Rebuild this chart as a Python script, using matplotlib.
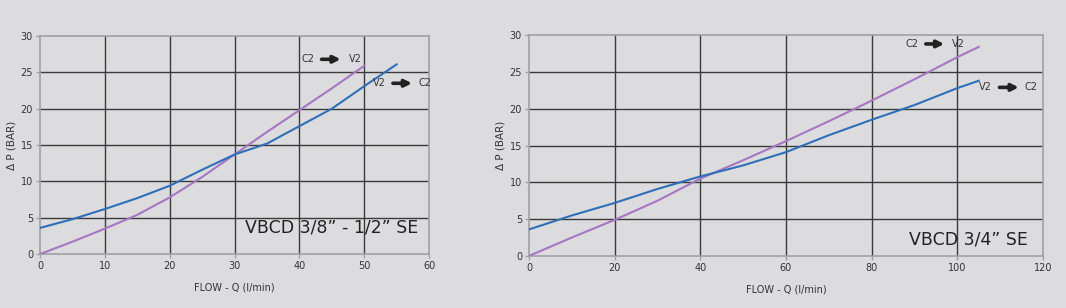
import matplotlib.pyplot as plt

# left chart: VBCD 3/8" - 1/2" SE
flow_a_blue = [0, 5, 10, 15, 20, 25, 30, 35, 40, 45, 50, 55]
dp_a_blue = [3.6, 4.8, 6.2, 7.7, 9.4, 11.6, 13.7, 15.2, 17.6, 20.0, 23.1, 26.1]
flow_a_purple = [0, 5, 10, 15, 20, 25, 30, 35, 40, 45, 50]
dp_a_purple = [0.0, 1.7, 3.5, 5.4, 7.8, 10.6, 13.7, 16.8, 19.8, 22.8, 25.9]

# right chart: VBCD 3/4" SE
flow_b_blue = [0, 10, 20, 30, 40, 50, 60, 70, 80, 90, 100, 105]
dp_b_blue = [3.6, 5.5, 7.2, 9.1, 10.8, 12.3, 14.1, 16.4, 18.5, 20.5, 22.8, 23.8]
flow_b_purple = [0, 10, 20, 30, 40, 50, 60, 70, 80, 90, 100, 105]
dp_b_purple = [0.0, 2.5, 4.9, 7.5, 10.5, 13.0, 15.6, 18.3, 21.1, 24.0, 27.0, 28.4]

BG = "#dcdcde"
BLUE = "#2f6fba"
PURPLE = "#a676c4"
TXT = "#333333"


def style_axes(ax, xmax, xstep):
    ax.set_facecolor(BG)
    ax.set_xlim(0, xmax)
    ax.set_ylim(0, 30)
    ax.set_xticks(range(0, xmax + 1, xstep))
    ax.set_yticks(range(0, 31, 5))
    for v in range(xstep, xmax, xstep):
        ax.axvline(v, color="#3a3a3a", lw=1.0, zorder=1)
    for v in range(5, 30, 5):
        ax.axhline(v, color="#3a3a3a", lw=1.0, zorder=1)
    for s in ax.spines.values():
        s.set_color("#a0a0a0")
        s.set_linewidth(1.2)
    ax.tick_params(colors="#a0a0a0", labelcolor=TXT, labelsize=7, length=3, width=1, pad=2)
    ax.set_xlabel("FLOW - Q (l/min)", fontsize=7, color=TXT, labelpad=8)
    ax.set_ylabel("Δ P (BAR)", fontsize=7.5, color=TXT, labelpad=3)


def flow_label(ax, x1, xa0, xa1, x2, y, t1, t2):
    ax.text(x1, y, t1, ha="center", va="center", fontsize=7, color=TXT, zorder=5)
    ax.annotate("", xy=(xa1, y), xytext=(xa0, y),
                arrowprops=dict(arrowstyle="-|>", color="#222222", lw=2.6,
                                mutation_scale=10), zorder=5)
    ax.text(x2, y, t2, ha="center", va="center", fontsize=7, color=TXT, zorder=5)


fig = plt.figure(figsize=(10.66, 3.08), dpi=100, facecolor=BG)

ax1 = fig.add_axes([0.0375, 0.175, 0.365, 0.708])
style_axes(ax1, 60, 10)
ax1.plot(flow_a_purple, dp_a_purple, color=PURPLE, lw=1.5, zorder=3)
ax1.plot(flow_a_blue, dp_a_blue, color=BLUE, lw=1.5, zorder=4)
flow_label(ax1, 41.3, 43.0, 46.8, 48.6, 26.8, "C2", "V2")
flow_label(ax1, 52.4, 54.0, 57.8, 59.3, 23.5, "V2", "C2")
ax1.text(58.3, 3.6, "VBCD 3/8” - 1/2” SE", ha="right", va="center",
         fontsize=12.5, color="#222222", zorder=5)

ax2 = fig.add_axes([0.4962, 0.169, 0.4822, 0.717])
style_axes(ax2, 120, 20)
ax2.plot(flow_b_purple, dp_b_purple, color=PURPLE, lw=1.5, zorder=3)
ax2.plot(flow_b_blue, dp_b_blue, color=BLUE, lw=1.5, zorder=4)
flow_label(ax2, 89.4, 92.0, 97.6, 100.2, 28.8, "C2", "V2")
flow_label(ax2, 106.5, 109.2, 115.0, 117.2, 22.9, "V2", "C2")
ax2.text(116.5, 2.2, "VBCD 3/4” SE", ha="right", va="center",
         fontsize=12.5, color="#222222", zorder=5)

fig.savefig("out.png", dpi=100, facecolor=BG)
